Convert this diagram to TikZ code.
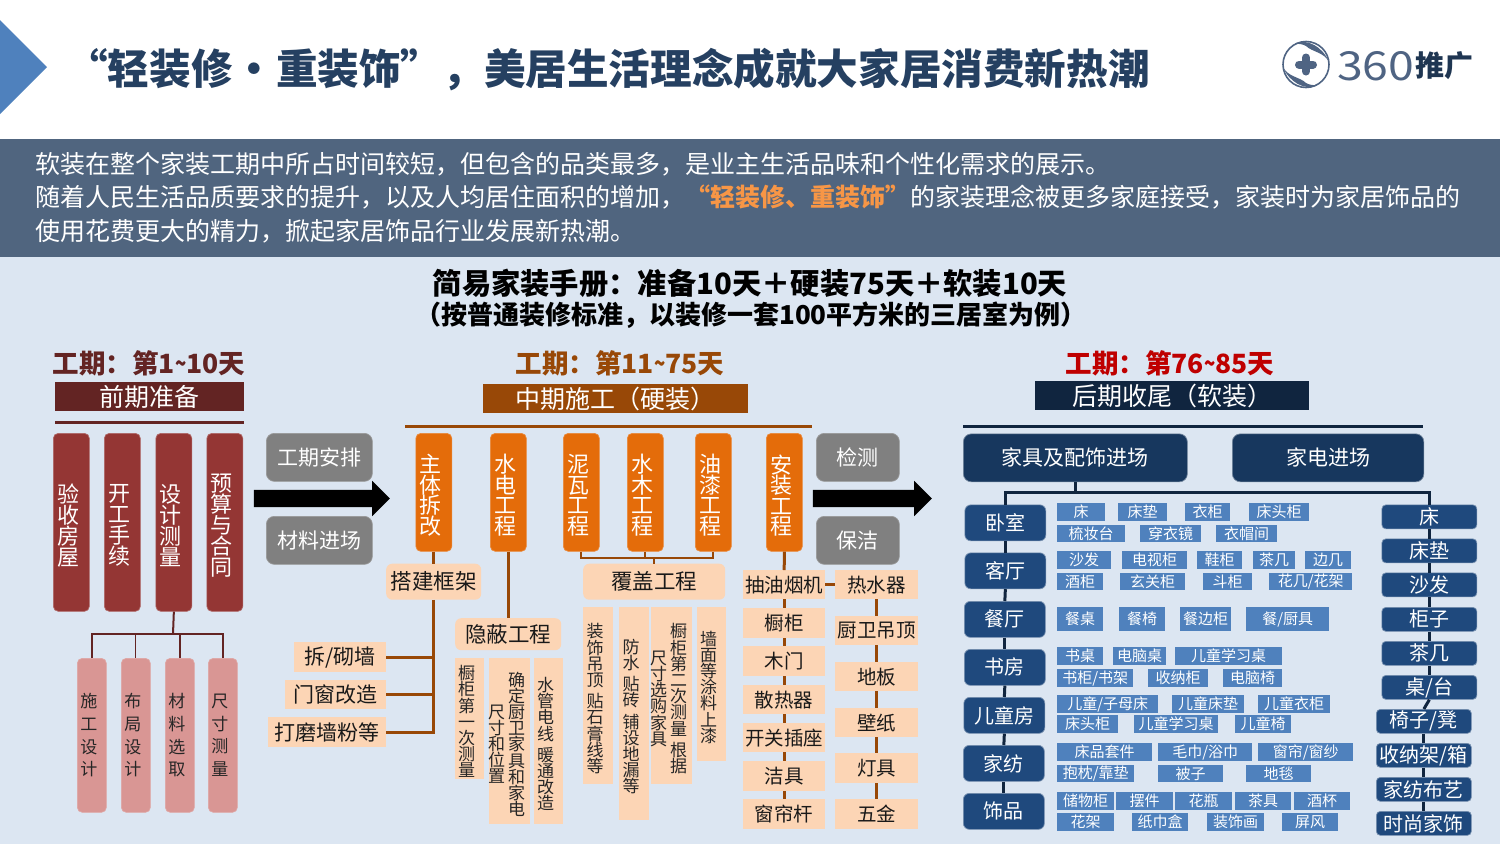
\documentclass[tikz,border=0pt]{standalone}
\usepackage{fontspec}
\setmainfont{Noto Sans CJK SC}
\usetikzlibrary{shapes,arrows}
\definecolor{bandgray}{HTML}{50657F}
\definecolor{paleblue}{HTML}{DCE6F2}
\definecolor{titleblue}{HTML}{254061}
\definecolor{arrowblue}{HTML}{4F81BD}
\definecolor{darkred}{HTML}{632423}
\definecolor{midred}{HTML}{943634}
\definecolor{pinkred}{HTML}{D99694}
\definecolor{darkbrown}{HTML}{984807}
\definecolor{orangebar}{HTML}{E46C0A}
\definecolor{peach}{HTML}{FCD5B5}
\definecolor{navy}{HTML}{10253F}
\definecolor{deepblue}{HTML}{17375E}
\definecolor{roomblue}{HTML}{1F497D}
\definecolor{logoblue}{HTML}{4F6483}
\definecolor{hotorange}{HTML}{F79646}
\newcommand{\vcol}[1]{\parbox[c]{1em}{\centering\lineskiplimit=-100pt #1}}
\newcommand{\vbar}[1]{\hspace*{-6pt}\vcol{\vspace*{6pt}#1}}
\newcommand{\vpair}[2]{\hspace*{-6pt}\vcol{\vspace*{6pt}#1}\hspace{3pt}\vcol{\vspace*{6pt}#2}}
\newcommand{\narrowtilde}{\scalebox{.7}[1]{\textasciitilde}}
\tikzset{
  cell/.style 2 args={anchor=north west, minimum width=#1, minimum height=#2, inner sep=0pt},
  redbar/.style={cell={36}{178}, fill=midred, draw=midred!75!white, line width=.7pt, rounded corners=5pt, text=white, font=\fontsize{22}{21}\selectfont},
  pinkbar/.style={cell={29}{154}, fill=pinkred, draw=pinkred!85!white, line width=.7pt, rounded corners=5pt, text=black!85, font=\fontsize{17}{22.6}\selectfont},
  graybox/.style={cell={#1}{48}, fill=black!50, draw=black!40, line width=.7pt, rounded corners=8pt, text=white, font=\fontsize{21}{24}\selectfont},
  orangebar/.style={cell={36}{118}, fill=orangebar, draw=orangebar!80!white, line width=.7pt, rounded corners=5pt, text=white, font=\fontsize{22}{20.5}\selectfont},
  peachtall/.style 2 args={cell={#1}{#2}, fill=peach, text=black!85, font=\fontsize{17}{16.2}\selectfont},
  peachbox/.style 2 args={cell={#1}{#2}, fill=peach, text=black!90, font=\fontsize{21}{24}\selectfont},
  peachitem/.style 2 args={peachbox={#1}{#2}, font=\fontsize{19.5}{24}\selectfont},
  peachround/.style 2 args={peachbox={#1}{#2}, rounded corners=6pt, font=\fontsize{21.5}{24}\selectfont},
  navybox/.style={cell={#1}{48}, fill=deepblue, draw=deepblue!60!white, line width=.7pt, rounded corners=8pt, text=white, font=\fontsize{21}{24}\selectfont},
  roombox/.style={cell={81}{36}, fill=roomblue, draw=roomblue!60!white, line width=.7pt, rounded corners=6pt, text=white, font=\fontsize{20}{24}\selectfont},
  kindbox/.style={cell={95}{24}, fill=roomblue, draw=roomblue!60!white, line width=.7pt, rounded corners=4pt, text=white, font=\fontsize{20}{24}\selectfont},
  tagbox/.style 2 args={cell={#1}{#2}, fill=arrowblue, text=white, font=\fontsize{15}{18}\selectfont},
  blackarrow/.style={single arrow, fill=black, inner xsep=0pt, inner ysep=8.5pt, minimum height=#1, single arrow head extend=9pt},
  phase/.style={font=\fontsize{26.5}{30}\selectfont\bfseries},
  banner/.style={anchor=north west, inner sep=0pt, text=white, font=\fontsize{25}{28}\selectfont},
  redline/.style={draw=darkred, line width=2pt},
  brownline/.style={draw=darkbrown, line width=3pt},
  thinbrown/.style={draw=darkbrown, line width=2pt},
  navyline/.style={draw=navy, line width=3pt}
}
\begin{document}
\begin{tikzpicture}[x=1pt, y=-1pt]
  \useasboundingbox (0,0) rectangle (1500,844);
  % background
  \fill[white] (0,0) rectangle (1500,139);
  \fill[bandgray] (0,139) rectangle (1500,257);
  \fill[paleblue] (0,257) rectangle (1500,844);
  \fill[arrowblue] (0,20) -- (47,67) -- (0,114) -- cycle;
  % head
  \node [anchor=west, inner sep=0pt, text=titleblue, font=\fontsize{41.6}{46}\selectfont\bfseries] (title) at (66,69.5) {“轻装修\hspace{1pt}•\hspace{1pt}重装饰”，美居生活理念成就大家居消费新热潮};
  \node [anchor=north west, inner sep=0pt, align=left, text=white, font=\fontsize{25}{33.5}\selectfont] (intro) at (35,152) {软装在整个家装工期中所占时间较短，但包含的品类最多，是业主生活品味和个性化需求的展示。\\随着人民生活品质要求的提升，以及人均居住面积的增加，\textcolor{hotorange}{\bfseries “轻装修、重装饰”}的家装理念被更多家庭接受，家装时为家居饰品的\\使用花费更大的精力，掀起家居饰品行业发展新热潮。};
  \node [font=\fontsize{29.3}{32}\selectfont\bfseries] (guide) at (750,283) {简易家装手册：准备10天＋硬装75天＋软装10天};
  \node [font=\fontsize{26}{30}\selectfont\bfseries] (guidenote) at (751,315) {（按普通装修标准，以装修一套100平方米的三居室为例）};
  % logo
  \draw [logoblue, line width=1.6pt] (1306,64.5) circle (23);
  \draw [logoblue, line width=8pt, line cap=round] (1299,64.5) -- (1313,64.5);
  \draw [logoblue, line width=8pt, line cap=round] (1306,57.5) -- (1306,71.5);
  \fill [logoblue] (1295,43.5) .. controls (1307,38) and (1323,47) .. (1329,62) .. controls (1324,52) and (1312,52) .. (1306,46) .. controls (1303,44) and (1299,44) .. (1295,43.5) -- cycle;
  \fill [logoblue] (1317,85.5) .. controls (1305,91) and (1289,82) .. (1283,67) .. controls (1288,77) and (1300,77) .. (1306,83) .. controls (1309,85) and (1313,85) .. (1317,85.5) -- cycle;
  \node [anchor=west, inner sep=0pt, text=logoblue, font=\fontsize{40}{44}\selectfont] (logonum) at (1337,66) {\scalebox{1.16}[1]{360}};
  \node [anchor=west, inner sep=0pt, text=titleblue!85!black, font=\fontsize{29}{32}\selectfont\bfseries] (logotext) at (1415,66) {推广};
  % phase one
  \node [phase, text=darkred] (phaseone) at (149,363) {工期：第1\narrowtilde 10天};
  \node [banner, cell={189}{29}, fill=darkred] (prepare) at (55,382) {前期准备};
  \fill [darkred] (55,421) rectangle (244,424);
  \node [redbar] (accept) at (53,433) {\vbar{验\\收\\房\\屋}};
  \node [redbar] (permit) at (104,433) {\vbar{开\\工\\手\\续}};
  \node [redbar] (design) at (155.5,433) {\vbar{设\\计\\测\\量}};
  \node [redbar] (budget) at (206.5,433) {\vbar{预\\算\\与\\合\\同}};
  \node [pinkbar] (plan) at (77,658) {\hspace*{-6pt}\vcol{施\\工\\设\\计}};
  \node [pinkbar] (layout) at (121,658) {\hspace*{-6pt}\vcol{布\\局\\设\\计}};
  \node [pinkbar] (material) at (165,658) {\hspace*{-6pt}\vcol{材\\料\\选\\取}};
  \node [pinkbar] (measure) at (208,658) {\hspace*{-6pt}\vcol{尺\\寸\\测\\量}};
  \node [graybox=106] (schedule) at (266,433) {工期安排};
  \node [graybox=106] (supplies) at (266,516) {材料进场};
  \node [blackarrow=136pt] (arrowone) at (317.5,498.5) {};
  \coordinate (designfork) at (173,634);
  % phase two
  \node [phase, text=darkbrown] (phasetwo) at (620,363) {工期：第11\narrowtilde 75天};
  \node [banner, cell={265}{29}, fill=darkbrown] (construct) at (483,384) {中期施工（硬装）};
  \fill [darkbrown] (405,425) rectangle (812,428);
  \node [orangebar] (demolish) at (415.5,433) {\vbar{主\\体\\拆\\改}};
  \node [orangebar] (plumbing) at (490,433) {\vbar{水\\电\\工\\程}};
  \node [orangebar] (masonry) at (563,433) {\vbar{泥\\瓦\\工\\程}};
  \node [orangebar] (carpentry) at (627,433) {\vbar{水\\木\\工\\程}};
  \node [orangebar] (painting) at (695,433) {\vbar{油\\漆\\工\\程}};
  \node [orangebar] (install) at (766,433) {\vbar{安\\装\\工\\程}};
  \node [graybox=83] (inspect) at (816,433) {检测};
  \node [graybox=83] (cleaning) at (816,516) {保洁};
  \node [blackarrow=119pt] (arrowtwo) at (868,498.5) {};
  \node [peachround={95}{36}] (frame) at (386,563.5) {搭建框架};
  \node [peachbox={92}{30}] (wall) at (294,642) {拆/砌墙};
  \node [peachbox={101}{29}] (window) at (285,680) {门窗改造};
  \node [peachbox={118}{30}] (polish) at (268,717) {打磨墙粉等};
  \node [peachround={106}{32}] (hidden) at (455,618) {隐蔽工程};
  \node [peachtall={29}{121}] (firstcheck) at (455,658) {\vbar{橱\\柜\\第\\一\\次\\测\\量}};
  \node [peachtall={41}{166}] (fixture) at (489,658) {\vpair{尺\\寸\\和\\位\\置}{确\\定\\厨\\卫\\家\\具\\和\\家\\电}};
  \node [peachtall={29}{166}] (pipes) at (534,658) {\vbar{水\\管\\电\\线\\[5pt]暖\\通\\改\\造}};
  \node [peachround={142}{36}] (cover) at (583,563.5) {覆盖工程};
  \node [peachtall={30}{177}] (ceiling) at (583,607) {\vbar{装\\饰\\吊\\顶\\[5pt]贴\\石\\膏\\线\\等}};
  \node [peachtall={30}{213}] (tiling) at (619,607) {\vbar{防\\水\\[5pt]贴\\砖\\[5pt]铺\\设\\地\\漏\\等}};
  \node [peachtall={41}{177}] (secondcheck) at (651,607) {\vpair{尺\\寸\\选\\购\\家\\具}{橱\\柜\\第\\二\\次\\测\\量\\[5pt]根\\据}};
  \node [peachtall={29}{154}] (coating) at (697,607) {\vbar{墙\\面\\等\\涂\\料\\上\\漆}};
  \node [peachitem={82}{29}] (hood) at (743,570) {抽油烟机};
  \node [peachitem={82}{30}] (cabinet) at (743,608) {橱柜};
  \node [peachitem={82}{30}] (door) at (743,646) {木门};
  \node [peachitem={82}{29}] (radiator) at (743,685) {散热器};
  \node [peachitem={82}{29}] (socket) at (743,723) {开关插座};
  \node [peachitem={82}{30}] (sanitary) at (743,761) {洁具};
  \node [peachitem={82}{30}] (curtainrod) at (743,799) {窗帘杆};
  \node [peachitem={83}{29}] (heater) at (835,570) {热水器};
  \node [peachitem={83}{29}] (ceilingkit) at (835,616) {厨卫吊顶};
  \node [peachitem={83}{29}] (floor) at (835,662) {地板};
  \node [peachitem={83}{29}] (paper) at (835,708) {壁纸};
  \node [peachitem={83}{30}] (lamp) at (835,753) {灯具};
  \node [peachitem={83}{30}] (hardware) at (835,799) {五金};
  \coordinate (coverfork) at (654,557.5);
  % phase three
  \node [phase, text=red!75!black] (phasethree) at (1170,363) {工期：第76\narrowtilde 85天};
  \node [banner, cell={274}{29}, fill=navy] (finish) at (1035,381) {后期收尾（软装）};
  \fill [navy] (963,425) rectangle (1423,428);
  \node [navybox=224] (furnish) at (963,433.5) {家具及配饰进场};
  \node [navybox=191.5] (appliance) at (1232,433.5) {家电进场};
  \coordinate (furnishfork) at (1075,492);
  \node [roombox] (bedroom) at (964.5,504.5) {卧室};
  \node [roombox] (living) at (964.5,552.5) {客厅};
  \node [roombox] (dining) at (964,601) {餐厅};
  \node [roombox] (study) at (964,649) {书房};
  \node [roombox] (kids) at (963.5,697) {儿童房};
  \node [roombox] (textile) at (963,745) {家纺};
  \node [roombox] (decor) at (963,793) {饰品};
  \node [kindbox] (kbed) at (1381.5,504.5) {床};
  \node [kindbox] (kmattress) at (1381.5,538.5) {床垫};
  \node [kindbox] (ksofa) at (1381.5,572.5) {沙发};
  \node [kindbox] (kcabinet) at (1381.5,607) {柜子};
  \node [kindbox] (ktea) at (1381.5,641) {茶几};
  \node [kindbox] (ktable) at (1381.5,675) {桌/台};
  \node [kindbox] (kchair) at (1376,709) {椅子/凳};
  \node [kindbox] (kstorage) at (1376,743) {收纳架/箱};
  \node [kindbox] (kfabric) at (1376,777) {家纺布艺};
  \node [kindbox] (kfashion) at (1376,811) {时尚家饰};
  % tags
  \node [tagbox={48}{18}] (t11) at (1057,503) {床};
  \node [tagbox={49}{18}] (t12) at (1118,503) {床垫};
  \node [tagbox={45}{18}] (t13) at (1185,503) {衣柜};
  \node [tagbox={60}{18}] (t14) at (1249,503) {床头柜};
  \node [tagbox={68}{17}] (t21) at (1057,525) {梳妆台};
  \node [tagbox={61}{17}] (t22) at (1140,525) {穿衣镜};
  \node [tagbox={61}{17}] (t23) at (1216,525) {衣帽间};
  \node [tagbox={54}{18}] (t31) at (1057,551) {沙发};
  \node [tagbox={65}{18}] (t32) at (1122,551) {电视柜};
  \node [tagbox={45}{18}] (t33) at (1197,551) {鞋柜};
  \node [tagbox={42}{18}] (t34) at (1253,551) {茶几};
  \node [tagbox={46}{18}] (t35) at (1305,551) {边几};
  \node [tagbox={46}{17}] (t41) at (1057,573) {酒柜};
  \node [tagbox={65}{17}] (t42) at (1120,573) {玄关柜};
  \node [tagbox={49}{17}] (t43) at (1203,573) {斗柜};
  \node [tagbox={83}{17}] (t44) at (1269,573) {花几/花架};
  \node [tagbox={46}{24}] (t51) at (1057,607) {餐桌};
  \node [tagbox={46}{24}] (t52) at (1119,607) {餐椅};
  \node [tagbox={51}{24}] (t53) at (1180,607) {餐边柜};
  \node [tagbox={83}{24}] (t54) at (1246,607) {餐/厨具};
  \node [tagbox={46}{18}] (t61) at (1057,647) {书桌};
  \node [tagbox={53}{18}] (t62) at (1113,647) {电脑桌};
  \node [tagbox={107}{18}] (t63) at (1175,647) {儿童学习桌};
  \node [tagbox={76}{18}] (t71) at (1057,669) {书柜/书架};
  \node [tagbox={60}{18}] (t72) at (1148,669) {收纳柜};
  \node [tagbox={59}{18}] (t73) at (1223,669) {电脑椅};
  \node [tagbox={101}{18}] (t81) at (1057,695) {儿童/子母床};
  \node [tagbox={72}{18}] (t82) at (1172,695) {儿童床垫};
  \node [tagbox={72}{18}] (t83) at (1258,695) {儿童衣柜};
  \node [tagbox={61}{18}] (t91) at (1057,715) {床头柜};
  \node [tagbox={84}{18}] (t92) at (1134,715) {儿童学习桌};
  \node [tagbox={56}{18}] (t93) at (1235,715) {儿童椅};
  \node [tagbox={95}{18}] (ta1) at (1057,743) {床品套件};
  \node [tagbox={94}{18}] (ta2) at (1158,743) {毛巾/浴巾};
  \node [tagbox={95}{18}] (ta3) at (1258,743) {窗帘/窗纱};
  \node [tagbox={77}{17}] (tb1) at (1057,765) {抱枕/靠垫};
  \node [tagbox={65}{17}] (tb2) at (1158,765) {被子};
  \node [tagbox={65}{17}] (tb3) at (1246,765) {地毯};
  \node [tagbox={57}{18}] (tc1) at (1057,792) {储物柜};
  \node [tagbox={57}{18}] (tc2) at (1116,792) {摆件};
  \node [tagbox={57}{18}] (tc3) at (1175,792) {花瓶};
  \node [tagbox={56}{18}] (tc4) at (1235,792) {茶具};
  \node [tagbox={56}{18}] (tc5) at (1294,792) {酒杯};
  \node [tagbox={57}{18}] (td1) at (1057,813) {花架};
  \node [tagbox={56}{18}] (td2) at (1132,813) {纸巾盒};
  \node [tagbox={57}{18}] (td3) at (1207,813) {装饰画};
  \node [tagbox={56}{18}] (td4) at (1282,813) {屏风};
  % edges
  \draw [redline] (design.south) -- (designfork);
  \draw [redline] (plan.north) |- (designfork);
  \draw [redline] (measure.north) |- (designfork);
  \draw [redline, line width=1pt] (layout.north) -- (layout.north |- designfork);
  \draw [redline] (material.north) -- (material.north |- designfork);
  \draw [brownline] (demolish.south) -- (frame.north -| demolish.south);
  \draw [brownline] (frame.south -| demolish.south) |- (polish.east);
  \draw [brownline] (wall.east) -- (wall.east -| demolish.south);
  \draw [brownline] (window.east) -- (window.east -| demolish.south);
  \draw [brownline] (plumbing.south) -- (hidden.north -| plumbing.south);
  \draw [thinbrown] (masonry.south) |- (coverfork);
  \draw [thinbrown] (painting.south) |- (coverfork);
  \draw [thinbrown] (carpentry.south) -- (carpentry.south |- coverfork);
  \draw [thinbrown] (coverfork) -- (cover.north -| coverfork);
  \draw [brownline] (install.south) -- (hood.north);
  \draw [brownline] (hood.south) -- (cabinet.north);
  \draw [brownline] (cabinet.south) -- (door.north);
  \draw [brownline] (door.south) -- (radiator.north);
  \draw [brownline] (radiator.south) -- (socket.north);
  \draw [brownline] (socket.south) -- (sanitary.north);
  \draw [brownline] (sanitary.south) -- (curtainrod.north);
  \draw [brownline] (hood.east) -- (heater.west);
  \draw [brownline] (heater.south) -- (ceilingkit.north);
  \draw [brownline] (ceilingkit.south) -- (floor.north);
  \draw [brownline] (floor.south) -- (paper.north);
  \draw [brownline] (paper.south) -- (lamp.north);
  \draw [brownline] (lamp.south) -- (hardware.north);
  \draw [navyline] (furnish.south -| furnishfork) -- (furnishfork);
  \draw [navyline] (bedroom.north) |- (furnishfork);
  \draw [navyline] (kbed.north) |- (furnishfork);
  \draw [navyline] (bedroom.south) -- (living.north);
  \draw [navyline] (living.south) -- (dining.north);
  \draw [navyline] (dining.south) -- (study.north);
  \draw [navyline] (study.south) -- (kids.north);
  \draw [navyline] (kids.south) -- (textile.north);
  \draw [navyline] (textile.south) -- (decor.north);
  \draw [navyline] (kbed.south) -- (kmattress.north);
  \draw [navyline] (kmattress.south) -- (ksofa.north);
  \draw [navyline] (ksofa.south) -- (kcabinet.north);
  \draw [navyline] (kcabinet.south) -- (ktea.north);
  \draw [navyline] (ktea.south) -- (ktable.north);
  \draw [navyline] (ktable.south) -- (kchair.north);
  \draw [navyline] (kchair.south) -- (kstorage.north);
  \draw [navyline] (kstorage.south) -- (kfabric.north);
  \draw [navyline] (kfabric.south) -- (kfashion.north);
\end{tikzpicture}
\end{document}
